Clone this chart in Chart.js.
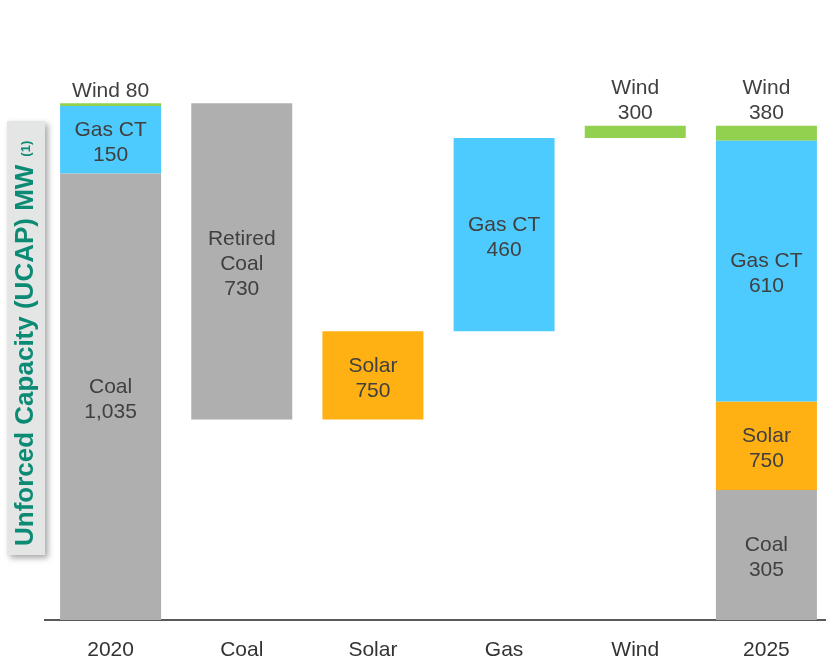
<!DOCTYPE html>
<html>
<head>
<meta charset="utf-8">
<script src="https://cdn.jsdelivr.net/npm/chart.js@4"></script>
<style>
html, body { margin: 0; padding: 0; background: #fff; overflow: hidden; }
#wrap { width: 832px; height: 658px; }
</style>
</head>
<body>
<div id="wrap"><canvas id="myChart"></canvas></div>
<script>
var categories = ['2020', 'Coal', 'Solar', 'Gas', 'Wind', '2025'];

// bar extents [from, to] as drawn in the picture (the picture is not to scale with its labels)
var coalBars  = [[0, 1093], [491, 1265], null, null, null, [0, 318]];
var gasBars   = [[1093, 1258], null, null, [707, 1180], null, [535, 1173]];
var solarBars = [null, null, [491, 707], null, null, [318, 535]];
var windBars  = [[1258, 1265], null, null, null, [1180, 1210], [1173, 1210]];

// printed labels
var coalLabels  = [['Coal', '1,035'], ['Retired', 'Coal', '730'], null, null, null, ['Coal', '305']];
var gasLabels   = [['Gas CT', '150'], null, null, ['Gas CT', '460'], null, ['Gas CT', '610']];
var solarLabels = [null, null, ['Solar', '750'], null, null, ['Solar', '750']];
var windLabels  = [['Wind 80'], null, null, null, ['Wind', '300'], ['Wind', '380']];

var FONT = "'Liberation Sans', Arial, sans-serif";

// grey box with the rotated axis title
var axisTitle = {
  id: 'axisTitle',
  beforeDraw: function(chart) {
    var c = chart.ctx;
    c.save();
    c.shadowColor = 'rgba(0,0,0,0.35)';
    c.shadowBlur = 6;
    c.shadowOffsetX = 3;
    c.shadowOffsetY = 3;
    c.fillStyle = '#e4e6e6';
    c.fillRect(7, 121, 38, 434);
    c.restore();

    c.save();
    c.translate(25, 546);
    c.rotate(-Math.PI / 2);
    c.fillStyle = '#0b8a74';
    c.textAlign = 'left';
    c.textBaseline = 'middle';
    c.font = 'bold 26px ' + FONT;
    var txt = 'Unforced Capacity (UCAP) MW';
    c.fillText(txt, 0, 1);
    var w = c.measureText(txt).width;
    c.font = 'bold 13px ' + FONT;
    c.fillText('(1)', w + 8, 1);
    c.restore();
  }
};

// text inside / above the bars
var barText = {
  id: 'barText',
  afterDatasetsDraw: function(chart) {
    var c = chart.ctx;
    var lh = 25;
    c.save();
    c.font = '21px ' + FONT;
    c.fillStyle = '#404040';
    c.textAlign = 'center';
    c.textBaseline = 'middle';
    chart.data.datasets.forEach(function(ds, i) {
      var meta = chart.getDatasetMeta(i);
      meta.data.forEach(function(bar, j) {
        var lines = ds.texts[j];
        if (!lines || ds.data[j] == null) return;
        var top = Math.min(bar.y, bar.base);
        var bottom = Math.max(bar.y, bar.base);
        var first;
        if (ds.above) {
          first = top - 12 - (lines.length - 1) * lh;
        } else {
          first = (top + bottom) / 2 + 3 - (lines.length - 1) * lh / 2;
        }
        lines.forEach(function(t, k) {
          c.fillText(t, bar.x, first + k * lh);
        });
      });
    });
    c.restore();
  }
};

var ctx = document.getElementById('myChart');
var myChart = new Chart(ctx, {
  type: 'bar',
  data: {
    labels: categories,
    datasets: [
      { label: 'Coal', data: coalBars, texts: coalLabels, backgroundColor: '#afafaf' },
      { label: 'Gas CT', data: gasBars, texts: gasLabels, backgroundColor: '#4dcbff' },
      { label: 'Solar', data: solarBars, texts: solarLabels, backgroundColor: '#ffb012' },
      { label: 'Wind', data: windBars, texts: windLabels, backgroundColor: '#92d050', above: true }
    ]
  },
  options: {
    responsive: true,
    maintainAspectRatio: false,
    animation: false,
    layout: { padding: { left: 45, top: 48, right: 0, bottom: 0 } },
    datasets: {
      bar: { grouped: false, skipNull: true, barPercentage: 0.77, categoryPercentage: 1 }
    },
    plugins: {
      legend: { display: false },
      tooltip: { enabled: false }
    },
    scales: {
      x: {
        grid: { display: false, drawTicks: false },
        border: { display: true, color: '#595959', width: 2 },
        ticks: { color: '#333333', font: { size: 21, family: FONT }, padding: 18 },
        afterFit: function(scale) { scale.height = 38; }
      },
      y: { display: false, min: 0, max: 1400 }
    }
  },
  plugins: [axisTitle, barText]
});
</script>
</body>
</html>
